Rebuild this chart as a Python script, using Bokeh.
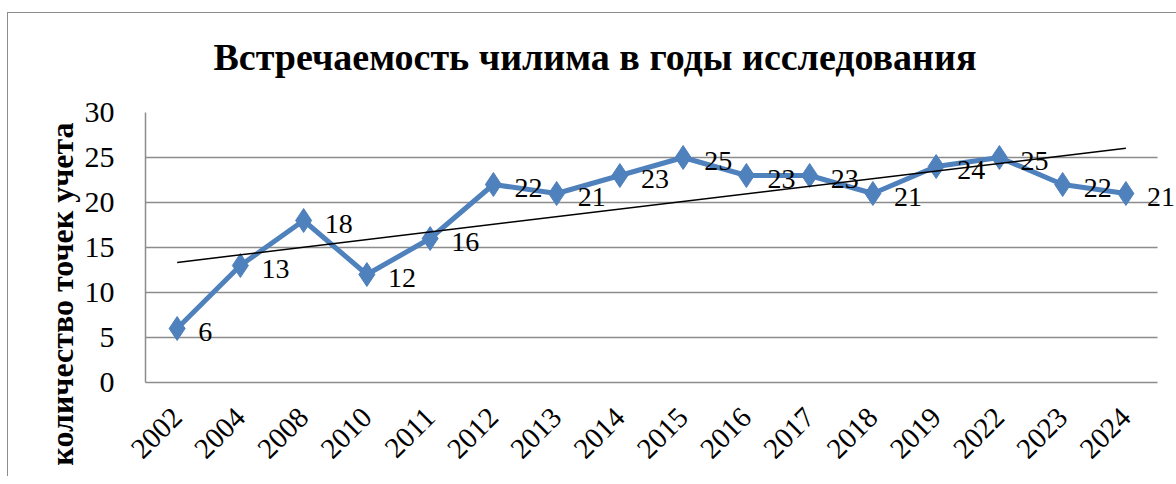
import numpy as np
from bokeh.plotting import figure
from bokeh.models import (ColumnDataSource, LabelSet, Title, FixedTicker,
                          Range1d, BoxAnnotation)
from bokeh.embed import file_html
from bokeh.resources import INLINE

years = ["2002", "2004", "2008", "2010", "2011", "2012", "2013", "2014",
         "2015", "2016", "2017", "2018", "2019", "2022", "2023", "2024"]
counts = [6, 13, 18, 12, 16, 22, 21, 23, 25, 23, 23, 21, 24, 25, 22, 21]
y_ticks = [0, 5, 10, 15, 20, 25, 30]
title_text = "Встречаемость чилима в годы исследования"
y_label_text = "количество точек учета"

N = len(years)
pos = list(range(N))  # category slots

# linear trend (least squares, as in the spreadsheet trendline)
slope, intercept = np.polyfit(np.array(pos), counts, 1)
trend_x = [pos[0], pos[-1]]
trend_y = [slope * pos[0] + intercept, slope * pos[-1] + intercept]

FONT = "Times New Roman"
BLUE = "#4F81BD"
GRID = "#8c8c8c"
RIGHT_PAD = 0.30  # extra room (in category slots) so the last data label is not clipped

p = figure(x_range=Range1d(-0.5, N - 0.5 + RIGHT_PAD), y_range=(0, 30),
           width=1176, height=476,
           output_backend="svg", toolbar_location=None,
           min_border_left=145, min_border_right=0,
           min_border_top=112, min_border_bottom=94)
# outer chart border (left and top edges visible in the reference)
p.styles = {
    "position": "absolute", "left": "0px", "top": "0px",
    "background-color": "white",
    "background-image": "linear-gradient(#8c8c8c, #8c8c8c), linear-gradient(#8c8c8c, #8c8c8c)",
    "background-size": "1px 100%, 100% 1px",
    "background-position": "7px 12px, 7px 12px",
    "background-repeat": "no-repeat",
}
p.outline_line_color = None
p.background_fill_color = "white"
p.border_fill_color = None

p.title.text = title_text
p.title.text_font = FONT
p.title.text_font_size = "38px"
p.title.text_font_style = "bold"
p.title.text_color = "black"
p.title.align = "left"
p.title.offset = 68
p.title.vertical_align = "middle"
p.title.standoff = 68

ylab = Title(text=y_label_text, align="right", text_font=FONT, text_color="black",
             text_font_size="32px", text_font_style="bold", offset=10, standoff=3)
p.add_layout(ylab, "left")

p.yaxis.ticker = FixedTicker(ticks=y_ticks)
p.yaxis.major_label_text_font = FONT
p.yaxis.major_label_text_color = "black"
p.yaxis.major_label_text_font_size = "30px"
p.yaxis.major_label_standoff = 25
p.yaxis.major_tick_line_color = None
p.yaxis.minor_tick_line_color = None
p.yaxis.axis_line_color = GRID
p.yaxis.axis_line_width = 1.5

p.xaxis.ticker = FixedTicker(ticks=pos)
p.xaxis.major_label_overrides = {i: y for i, y in zip(pos, years)}
p.xaxis.bounds = (-0.5, N - 0.5)
p.xaxis.major_label_orientation = np.pi / 4
p.xaxis.major_label_text_font = FONT
p.xaxis.major_label_text_color = "black"
p.xaxis.major_label_text_font_size = "29px"
p.xaxis.major_label_standoff = 24
p.xaxis.major_tick_line_color = None
p.xaxis.minor_tick_line_color = None
p.xaxis.axis_line_color = GRID
p.xaxis.axis_line_width = 1.5

p.xgrid.grid_line_color = None
p.ygrid.grid_line_color = GRID
p.ygrid.grid_line_width = 1.5
# gridlines stop at the plot area's right edge
p.add_layout(BoxAnnotation(left=N - 0.5, fill_color="white", fill_alpha=1.0,
                           line_color=None, level="underlay"))

src = ColumnDataSource(dict(x=pos, y=counts, lab=[str(c) for c in counts]))
p.line("x", "y", source=src, line_color=BLUE, line_width=5)
p.scatter("x", "y", source=src, marker="diamond", size=24,
          fill_color=BLUE, line_color=BLUE)
p.line(trend_x, trend_y, line_color="black", line_width=1.5)

labels = LabelSet(x="x", y="y", text="lab", source=src, x_offset=21, y_offset=-3,
                  text_font=FONT, text_font_size="28px", text_align="left",
                  text_baseline="middle", text_color="black")
p.add_layout(labels)

open("out.html", "w").write(file_html(p, INLINE))
